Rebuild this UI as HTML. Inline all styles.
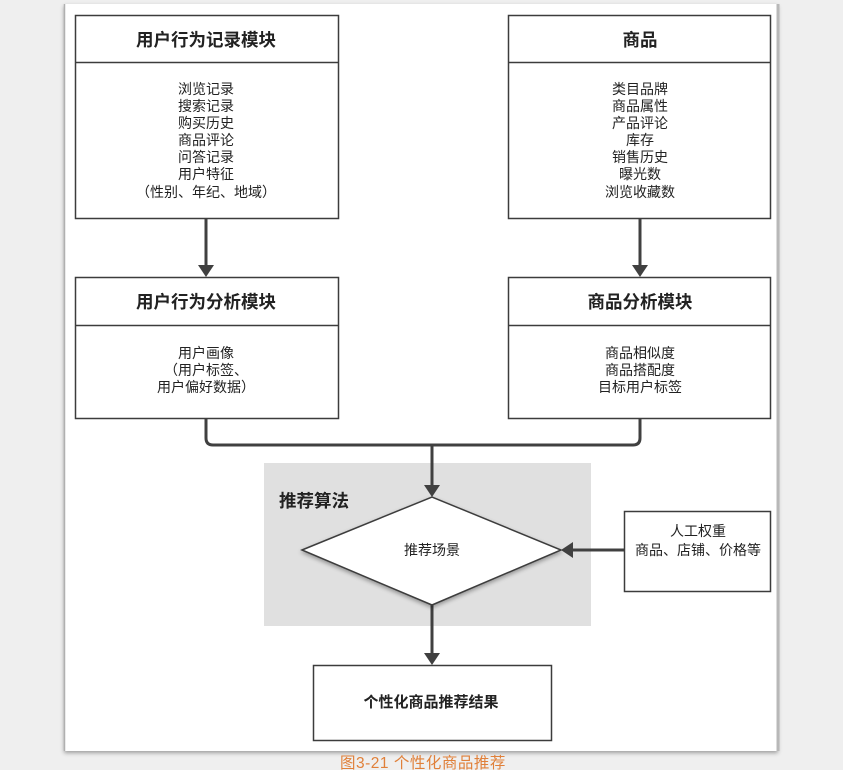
<!DOCTYPE html>
<html><head><meta charset="utf-8">
<style>
html,body{margin:0;padding:0;background:#efefef;}
svg{display:block;}
text{font-family:"Liberation Sans","Noto Sans CJK SC","WenQuanYi Zen Hei",sans-serif;fill:#222;}
</style></head>
<body>
<svg width="843" height="770" viewBox="0 0 843 770" xmlns="http://www.w3.org/2000/svg">
<defs>
<filter id="sh" x="-10%" y="-10%" width="120%" height="120%">
<feGaussianBlur in="SourceAlpha" stdDeviation="2"/>
<feOffset dx="0" dy="2"/>
<feComponentTransfer><feFuncA type="linear" slope="0.35"/></feComponentTransfer>
<feMerge><feMergeNode/><feMergeNode in="SourceGraphic"/></feMerge>
</filter>
</defs>
<rect x="0" y="0" width="843" height="770" fill="#efefef"/>
<!-- paper -->
<rect x="64" y="4" width="714" height="747" fill="#fff" filter="url(#sh)"/>
<line x1="64.5" y1="4" x2="64.5" y2="751" stroke="#b0b0b0" stroke-width="1.5"/>
<line x1="778" y1="4" x2="778" y2="751" stroke="#b8b8b8" stroke-width="3"/>

<g stroke="#3c3c3c" stroke-width="1.5" fill="#fff">
<rect x="75.5" y="15.5" width="263" height="203"/>
<line x1="75.5" y1="62.5" x2="338.5" y2="62.5"/>
<rect x="508.5" y="15.5" width="262" height="203"/>
<line x1="508.5" y1="62.5" x2="770.5" y2="62.5"/>
<rect x="75.5" y="277.5" width="263" height="141"/>
<line x1="75.5" y1="325.5" x2="338.5" y2="325.5"/>
<rect x="508.5" y="277.5" width="262" height="141"/>
<line x1="508.5" y1="325.5" x2="770.5" y2="325.5"/>
</g>

<!-- gray area -->
<rect x="264" y="463" width="327" height="163" fill="#e0e0e0"/>

<!-- connectors -->
<g stroke="#404040" stroke-width="3" fill="none">
<line x1="206" y1="219" x2="206" y2="266"/>
<line x1="640" y1="219" x2="640" y2="266"/>
<path d="M206 419 V438 Q206 445 213 445 H633 Q640 445 640 438 V419"/>
<line x1="432" y1="445" x2="432" y2="486"/>
<line x1="624" y1="550" x2="572" y2="550"/>
<line x1="432" y1="605" x2="432" y2="654"/>
</g>
<g fill="#404040">
<polygon points="198,265 214,265 206,277"/>
<polygon points="632,265 648,265 640,277"/>
<polygon points="424,485 440,485 432,497"/>
<polygon points="573,542 573,558 561,550"/>
<polygon points="424,653 440,653 432,665"/>
</g>

<!-- diamond -->
<polygon points="302,550 432,497 561,550 432,605" fill="#fff" stroke="#3c3c3c" stroke-width="1.5" filter="url(#sh)"/>

<!-- right box -->
<rect x="624.5" y="511.5" width="146" height="80" fill="#fff" stroke="#3c3c3c" stroke-width="1.5"/>
<!-- result box -->
<rect x="313.5" y="665.5" width="238" height="75" fill="#fff" stroke="#3c3c3c" stroke-width="1.5"/>

<!-- texts -->
<g text-anchor="middle" font-weight="bold" font-size="17.5">
<text x="206" y="46">用户行为记录模块</text>
<text x="640" y="46">商品</text>
<text x="206" y="308">用户行为分析模块</text>
<text x="640" y="308">商品分析模块</text>
</g>
<text x="279" y="507" font-weight="bold" font-size="17.5">推荐算法</text>

<g text-anchor="middle" font-size="14">
<text x="206" y="94">浏览记录</text>
<text x="206" y="111">搜索记录</text>
<text x="206" y="128">购买历史</text>
<text x="206" y="145">商品评论</text>
<text x="206" y="162">问答记录</text>
<text x="206" y="179">用户特征</text>
<text x="206" y="197">（性别、年纪、地域）</text>

<text x="640" y="94">类目品牌</text>
<text x="640" y="111">商品属性</text>
<text x="640" y="128">产品评论</text>
<text x="640" y="145">库存</text>
<text x="640" y="162">销售历史</text>
<text x="640" y="179">曝光数</text>
<text x="640" y="197">浏览收藏数</text>

<text x="206" y="358">用户画像</text>
<text x="206" y="375">（用户标签、</text>
<text x="206" y="392">用户偏好数据）</text>

<text x="640" y="358">商品相似度</text>
<text x="640" y="375">商品搭配度</text>
<text x="640" y="392">目标用户标签</text>

<text x="432" y="555">推荐场景</text>
<text x="698" y="536">人工权重</text>
<text x="698" y="555">商品、店铺、价格等</text>
</g>
<text x="431" y="707" text-anchor="middle" font-size="15" font-weight="bold">个性化商品推荐结果</text>

<text x="340" y="768" font-size="15.5" letter-spacing="0.5" style="fill:#e0803a">图3-21 个性化商品推荐</text>
</svg>
</body></html>
